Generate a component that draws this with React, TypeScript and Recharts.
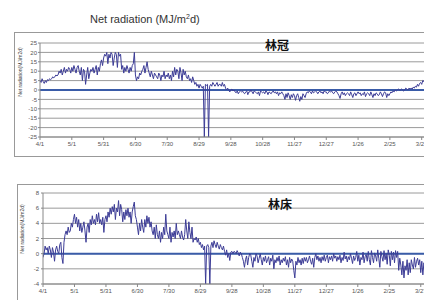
import React from 'react';
import { LineChart, Line, XAxis, YAxis, CartesianGrid, ReferenceLine } from 'recharts';

const tickDays = [0, 30, 60, 90, 120, 150, 180, 210, 240, 270, 300, 330, 360];
const tickLabels = ['4/1', '5/1', '5/31', '6/30', '7/30', '8/29', '9/28', '10/28', '11/27', '12/27', '1/26', '2/25', '3/27'];
const canopyTicks = [-25, -20, -15, -10, -5, 0, 5, 10, 15, 20, 25];
const floorTicks = [-4, -2, 0, 2, 4, 6, 8];

const canopy = [
  5, 4, 6, 4.5, 3.5, 5, 4, 5.5, 5, 6,
  5.5, 6, 7, 6.5, 7, 8, 7.5, 8, 10, 9,
  11, 8, 10, 12, 9, 11, 10, 12, 11, 9,
  12, 10, 13, 11, 9, 12, 13, 10, 8, 12,
  5, 11, 10, 3, 8, 12, 6, 9, 11, 10,
  12, 9, 11, 13, 8, 12, 10, 14, 16, 13,
  17, 19, 18, 20, 14, 19, 17, 20, 19, 13,
  17, 20, 19, 12, 20, 18, 19, 11, 13, 9,
  12, 10, 13, 11, 9, 12, 10, 13, 14, 20,
  8, 5, 7, 6, 9, 8, 10, 11, 13, 9,
  12, 15, 11, 9, 7, 10, 8, 6, 9, 8,
  7, 6, 9, 8, 5, 8, 7, 10, 6, 8,
  7, 9, 6, 8, 5, 10, 7, 12, 8, 11,
  10, 6, 12, 9, 5, 11, 8, 10, 7, 6,
  8, 5, 6, 4, 7, 5, 3, 4, 2, 3,
  1, 3, 2, 1, 2, -25, 3, 2.5, 3, -25,
  2, 3, 2, 4, 3, 2, 3, 4, 2, 3,
  3, 2, 4, 2, 3, 1, 0, 1, 0, -1,
  0, 0.5, -0.5, 0, -1, -1.5, -0.5, -2, -1, -0.5,
  -1, -0.5, -1.5, -2, -1, -0.5, -2.5, -1, -1, 0,
  -1, -2, -0.5, -1, -1.5, -2, -1, -3, -0.5, -1,
  -1.5, -1, -2, -0.5, -1, -2.5, -1, -1.5, -2, -1,
  -0.5, -1.5, -1, -2, -1, -3, -1.5, -2, -1, -2,
  -3, -5, -2, -4, -1.5, -3, -5, -2.5, -4, -2,
  -3, -5.5, -3, -2, -4, -6, -3.5, -5, -2, -3,
  -4, -2, -1, -1.5, -0.5, -1, -2, -0.5, -1.5, -1,
  -0.5, -1, -2, -1, -0.5, -1.5, -1, -2, -0.5, -1,
  -1, -2, -1.5, -0.5, -1, -0.5, -1.5, -2, -1, -0.5,
  -1, -2, -3, -4.5, -2, -1, -2.5, -1.5, -3, -2,
  -1.5, -2, -3, -1, -2.5, -4, -2, -1.5, -3, -2,
  -1, -2, -1.5, -3, -2, -2.5, -1, -3.5, -2, -1.5,
  -2, -3, -1, -2.5, -4, -2, -3, -1.5, -2, -3,
  -2.5, -1, -2, -3.5, -2, -1, -1.5, -4, -2, -3,
  -2, -1, -1.5, -0.5, -1, 0, -0.5, 0, 0.5, 0,
  0, 0.5, 0, -0.5, 0, 1, 0.5, 0, 1, 0.5,
  1, 0.5, 1.5, 1, 2, 1.5, 3, 2, 3.5, 4,
  3, 5, 4.5, 6, 5,
];

const floor = [
  -0.5, 0, 1, 0.5, 0.8, 0, 1, 0.5, -0.5, 0.8,
  0.2, -1, 0.5, 1, 0.3, 0, 1.2, 1.5, -0.5, -1.3,
  1.5, 2.5, 3, 2.5, 3.5, 2.8, 3, 4, 3.5, 4.5,
  5.2, 4, 4.8, 3.5, 4.5, 3, 4, 2.8, 3.5, 4.2,
  3, 1.5, 3.5, 4, 2.8, 4.5, 3.8, 5, 4, 4.5,
  3.8, 5.2, 4.2, 5.4, 4, 4.5, 3.8, 4.8, 2.8, 4.5,
  5, 4.2, 5.5, 4.8, 6, 5.2, 6.2, 5.5, 6.5, 4.5,
  6, 5.5, 7, 5, 6.5, 5.8, 4.2, 5.5, 4.5, 5.8,
  5, 6, 4.8, 5.5, 4, 5.5, 6.2, 6.8, 5, 4.5,
  3.5, 2.5, 4, 3, 4.5, 3.5, 2.8, 4.5, 3.5, 5,
  4, 4.8, 3.5, 4.2, 3, 2.5, 3.5, 2, 3.8, 2.5,
  2, 3, 1.5, 2.8, 2, 3.5, 2.5, 5.2, 3, 2.5,
  2, 3.5, 1.5, 2.8, 2.2, 3, 2, 4, 2.5, 3,
  2.5, 2, 3, 2.2, 1.8, 2.5, 4.5, 3, 2, 4.2,
  2.8, 2, 3.5, 1.5, 2, 1.8, 2.2, 1.5, 2, 1.2,
  1.5, 0.8, 1.2, 0.5, 1, -4, 1, 1.2, 0.8, -4,
  1, 1.5, 0.8, 1.7, 1.2, 0.8, 1.5, 1, 0.6, 1.2,
  0.8, 0.5, 1, 0.3, -0.2, 0.5, -0.5, 0, -0.9, 0.2,
  0.3, 0, 0.3, 0.2, 0, 0.4, 0.1, -0.3, 0.2, 0,
  -0.5, -1, -1.8, -0.8, -0.3, -1.5, -0.5, 0, -0.2, -1,
  -1.8, -0.5, -1, 0, -0.3, -1.2, -0.6, 0, -0.8, -1.5,
  -0.5, -1, -0.3, -1.2, -0.8, -0.4, -1.5, -0.6, -1, -0.2,
  -2, -0.8, -1.2, -0.5, -1, -0.3, -1.5, -0.8, -1.2, -0.6,
  -1, -0.4, -1.5, -0.8, -1.8, -0.5, -1.2, -0.7, -1, -2.2,
  -3.2, -1, -1.5, -0.5, -1.2, -0.8, -1.5, -0.6, -1.3, -0.5,
  -1, -0.5, -1.2, -0.8, -0.3, -1, -1.4, -0.6, -1.8, -0.5,
  0, -0.8, -0.3, -1, -0.5, -1.2, -0.4, -0.9, -0.2, -1,
  -0.5, -0.2, -1.2, -0.4, -0.8, -0.3, -1, 0, -0.6, -0.3,
  -1, -0.4, -0.8, -0.2, -1.2, -0.5, -0.9, 0.2, -0.7, -0.3,
  -1.1, -0.4, -0.8, 0, -0.6, -1.3, -0.3, -0.9, -0.5, 0.3,
  -1, -0.2, -1.5, -0.5, -0.8, 0.2, -1.2, -0.4, -0.1, -1,
  0.3, -0.8, -1.5, 0.4, -0.5, -1.2, 0.1, -0.3, -1, 0.5,
  -0.6, -1.8, 0.3, -0.4, -1, 0.4, -0.8, 0, -1.4, 0.5,
  -0.2, -1.6, 0.3, -0.8, 0.2, -1.2, 0.4, -0.5, 0.3, -2.2,
  -0.6, -1.5, -2.8, -1, -3.2, -1.6, -2.2, -0.8, -2.8, -1.2,
  -2.5, -0.8, -1.5, -2, -0.5, -1.8, -1, -0.6, -1.5, -0.8,
  -2.5, -1, -2.8, -1.2, -2,
];

const canopyData = canopy.map((v, i) => ({ day: i, v }));
const floorData = floor.map((v, i) => ({ day: i, v }));

const FONT = '"Liberation Sans", Arial, sans-serif';
const tickStyle = { fontSize: 6, fill: '#555', fontFamily: FONT };
const fmtDay = (d: number) => tickLabels[tickDays.indexOf(d)] ?? '';

const LINE = '#3c3c96';
const ZERO = '#3a5ca8';
const GRID = '#9a9a9a';
const AXIS = '#888';

export default function App() {
  return (
    <div style={{ position: 'fixed', left: 0, top: 0, width: 424, height: 300, overflow: 'hidden', background: '#fff' }}>
      {/* frames */}
      <div style={{ position: 'absolute', left: 14, top: 32, width: 460, height: 123, border: '1px solid #999' }} />
      <div style={{ position: 'absolute', left: 17, top: 184, width: 460, height: 200, border: '1px solid #999' }} />

      <div style={{ position: 'absolute', left: 0, top: 0 }}>
        <LineChart width={440} height={160} data={canopyData} margin={{ top: 43, right: 13, left: 0, bottom: 7 }}>
          <CartesianGrid horizontal vertical={false} stroke={GRID} strokeWidth={1} />
          <XAxis dataKey="day" type="number" domain={[0, 365]} ticks={tickDays} tickFormatter={fmtDay}
            interval={0} height={16} tick={tickStyle} tickSize={3} tickMargin={2} stroke={AXIS} allowDataOverflow />
          <YAxis type="number" domain={[-25, 25]} ticks={canopyTicks} interval={0} width={40}
            tick={tickStyle} tickSize={2} tickMargin={1} stroke={AXIS} allowDataOverflow />
          <ReferenceLine y={0} stroke={ZERO} strokeWidth={2} />
          <Line dataKey="v" stroke={LINE} strokeWidth={1} dot={false} isAnimationActive={false} />
        </LineChart>
      </div>

      <div style={{ position: 'absolute', left: 0, top: 150 }}>
        <LineChart width={440} height={160} data={floorData} margin={{ top: 43, right: 14, left: 0, bottom: 10 }}>
          <CartesianGrid horizontal vertical={false} stroke={GRID} strokeWidth={1} />
          <XAxis dataKey="day" type="number" domain={[0, 365]} ticks={tickDays} tickFormatter={fmtDay}
            interval={0} height={16} tick={tickStyle} tickSize={3} tickMargin={2} stroke={AXIS} allowDataOverflow />
          <YAxis type="number" domain={[-4, 8]} ticks={floorTicks} interval={0} width={43}
            tick={tickStyle} tickSize={2} tickMargin={2} stroke={AXIS} allowDataOverflow />
          <ReferenceLine y={0} stroke={ZERO} strokeWidth={2} />
          <Line dataKey="v" stroke={LINE} strokeWidth={1} dot={false} isAnimationActive={false} />
        </LineChart>
      </div>

      <svg width={424} height={300} style={{ position: 'absolute', left: 0, top: 0, pointerEvents: 'none' }}>
        <text x={90} y={23} fontSize={11} fill="#333" fontFamily={FONT}>
          Net radiation (MJ/m<tspan fontSize={7} dy={-4}>2</tspan><tspan dy={4}>d)</tspan>
        </text>
        <text x={277} y={50} fontSize={12} fontWeight="bold" fill="#111" textAnchor="middle"
          fontFamily='"Noto Sans CJK JP", sans-serif'>林冠</text>
        <text x={280} y={209} fontSize={12} fontWeight="bold" fill="#111" textAnchor="middle"
          fontFamily='"Noto Sans CJK JP", sans-serif'>林床</text>
        <text x={22} y={72} fontSize={5} fill="#444" textAnchor="middle" fontFamily={FONT}
          transform="rotate(-90 22 72)">Net radiation(MJ/m2d)</text>
        <text x={24} y={229} fontSize={5} fill="#444" textAnchor="middle" fontFamily={FONT}
          transform="rotate(-90 24 229)">Net radiation(MJ/m2d)</text>
      </svg>
    </div>
  );
}
